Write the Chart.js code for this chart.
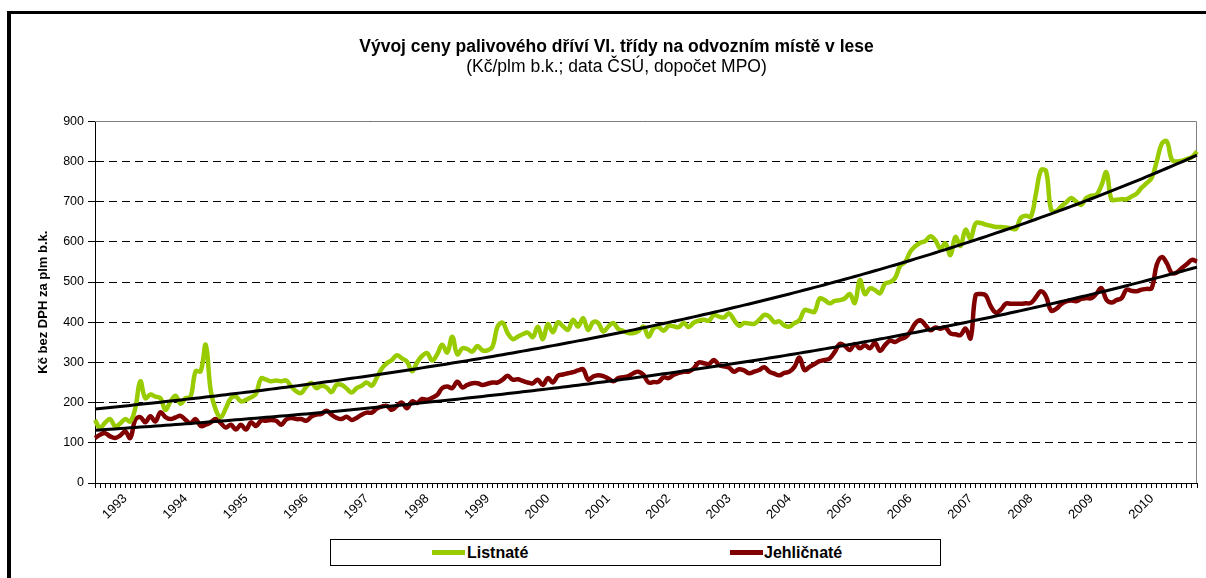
<!DOCTYPE html>
<html>
<head>
<meta charset="utf-8">
<script src="https://cdn.jsdelivr.net/npm/chart.js@4.4.1/dist/chart.umd.min.js"></script>
<style>
  body { margin: 0; background: #fff; overflow: hidden; }
  #wrap { position: relative; width: 1206px; height: 578px; overflow: hidden; font-family: 'Liberation Sans', Arial, sans-serif; }
  #frame { position: absolute; left: 7px; top: 11px; width: 1300px; height: 700px; border: 4px solid #000; border-top-width: 3px; }
  #chart { position: absolute; left: 0; top: 0; }
  #legend { position: absolute; left: 330px; top: 539px; width: 609px; height: 25px; border: 1px solid #000; background: #fff; }
  #legend .sw { position: absolute; top: 10px; width: 33px; height: 5px; }
  #legend .tx { position: absolute; top: 3px; font-weight: bold; font-size: 16px; color: #000; line-height: 19px; }
</style>
</head>
<body>
<div id="wrap">
  <div id="frame"></div>
  <canvas id="chart" width="1206" height="578"></canvas>
  <div id="legend">
    <div class="sw" style="left:101px;background:#99cc00"></div><div class="tx" style="left:136px">Listnaté</div>
    <div class="sw" style="left:399px;background:#800000"></div><div class="tx" style="left:433px">Jehličnaté</div>
  </div>
</div>
<script>
// years shown on the category axis (monthly data from Jan 1993)
const years = [1993, 1994, 1995, 1996, 1997, 1998, 1999, 2000, 2001, 2002, 2003, 2004, 2005, 2006, 2007, 2008, 2009, 2010];
const yTicks = [0, 100, 200, 300, 400, 500, 600, 700, 800, 900];

// Listnaté (Kč/plm b.k.), monthly
const listnate = [
  157, 137, 150, 159, 141, 148, 159, 153, 186, 253, 211, 220,
  215, 211, 182, 203, 217, 197, 211, 215, 278, 278, 344, 230,
  182, 164, 186, 211, 215, 203, 207, 213, 222, 260, 257, 253,
  255, 253, 255, 240, 228, 224, 240, 249, 236, 242, 238, 226,
  244, 244, 235, 225, 236, 242, 250, 242, 262, 285, 298, 306,
  318, 310, 302, 278, 300, 316, 323, 305, 320, 344, 325, 364,
  320, 335, 333, 327, 341, 330, 330, 339, 389, 399, 373, 358,
  364, 370, 374, 363, 389, 358, 395, 375, 400, 390, 381, 406,
  389, 410, 381, 400, 398, 377, 389, 398, 383, 378, 373, 373,
  378, 389, 364, 385, 388, 379, 391, 390, 388, 398, 388, 399,
  404, 406, 404, 418, 414, 412, 422, 406, 391, 398, 397, 396,
  406, 418, 414, 400, 402, 392, 389, 398, 405, 430, 428, 426,
  459, 455, 447, 453, 455, 459, 470, 448, 505, 470, 484, 480,
  472, 496, 500, 510, 540, 550, 575, 589, 598, 602, 614, 604,
  583, 596, 567, 612, 590, 630, 608, 646, 647, 643, 640, 637,
  637, 636, 634, 632, 660, 665, 663, 720, 778, 776, 680, 676,
  688, 698, 709, 700, 692, 709, 715, 717, 740, 773, 705, 705,
  706, 706, 713, 720, 735, 746, 759, 800, 844, 850, 804, 800,
  802, 806, 811, 825
];

// Jehličnaté (Kč/plm b.k.), monthly
const jehlicnate = [
  112, 120, 124, 116, 112, 118, 128, 112, 157, 164, 151, 166,
  153, 176, 164, 159, 163, 167, 157, 149, 159, 142, 145, 151,
  159, 149, 138, 145, 133, 145, 133, 151, 142, 155, 155, 157,
  155, 145, 158, 162, 159, 159, 155, 165, 170, 172, 180, 170,
  162, 159, 165, 157, 162, 170, 175, 175, 185, 190, 192, 182,
  192, 200, 186, 203, 199, 209, 207, 212, 219, 236, 240, 236,
  252, 238, 244, 248, 248, 244, 247, 250, 250, 257, 267, 257,
  258, 254, 250, 248, 257, 244, 261, 250, 267, 270, 273, 276,
  280, 283, 257, 265, 268, 266, 260, 253, 261, 263, 266, 273,
  277, 269, 250, 251, 252, 263, 261, 269, 274, 277, 277, 285,
  300, 298, 296, 306, 294, 290, 287, 277, 283, 280, 273, 277,
  281, 288, 277, 272, 268, 274, 277, 289, 312, 281, 289, 296,
  303, 306, 310, 326, 346, 341, 331, 346, 335, 343, 335, 349,
  329, 343, 354, 351, 358, 362, 376, 397, 405, 393, 380, 387,
  384, 387, 372, 370, 368, 384, 360, 467, 470, 467, 440, 424,
  431, 446, 446, 446, 446, 447, 448, 462, 477, 464, 429, 433,
  445, 452, 454, 452, 458, 460, 460, 471, 485, 456, 449, 455,
  460, 481, 478, 477, 481, 483, 485, 543, 562, 547, 522, 524,
  535, 545, 555, 551
];

// one label per year, in the middle of the year
const labels = [];
for (let i = 0; i < listnate.length; i++) {
  labels.push(i % 12 === 6 ? String(years[Math.floor(i / 12)]) : '');
}

// exponential trendline, least squares on ln(y) like Excel does
function expTrend(values) {
  let n = values.length, sx = 0, sy = 0, sxx = 0, sxy = 0;
  for (let i = 0; i < n; i++) {
    const x = i + 1, y = Math.log(values[i]);
    sx += x; sy += y; sxx += x * x; sxy += x * y;
  }
  const b = (n * sxy - sx * sy) / (n * sxx - sx * sx);
  const a = (sy - b * sx) / n;
  return values.map((v, i) => Math.exp(a + b * (i + 1)));
}

const plotFrame = {
  id: 'plotFrame',
  beforeDatasetsDraw(chart) {
    const ctx = chart.ctx, a = chart.chartArea;
    ctx.save();
    ctx.strokeStyle = '#808080';
    ctx.lineWidth = 1;
    ctx.beginPath();
    ctx.moveTo(a.left, Math.round(a.top) + 0.5);
    ctx.lineTo(Math.round(a.right) - 0.5, Math.round(a.top) + 0.5);
    ctx.lineTo(Math.round(a.right) - 0.5, a.bottom);
    ctx.stroke();
    ctx.restore();
  }
};

Chart.defaults.font.family = "'Liberation Sans', Arial, sans-serif";
Chart.defaults.color = '#000';

new Chart(document.getElementById('chart'), {
  type: 'line',
  data: {
    labels: labels,
    datasets: [
      { label: 'Listnaté', data: listnate, borderColor: '#99cc00', borderWidth: 4.5, pointRadius: 0, tension: 0.4, order: 2 },
      { label: 'Jehličnaté', data: jehlicnate, borderColor: '#800000', borderWidth: 4.5, pointRadius: 0, tension: 0.4, order: 2 },
      { label: 'trend L', data: expTrend(listnate), borderColor: '#000', borderWidth: 3, pointRadius: 0, order: 1 },
      { label: 'trend J', data: expTrend(jehlicnate), borderColor: '#000', borderWidth: 3, pointRadius: 0, order: 1 }
    ]
  },
  options: {
    responsive: false,
    animation: false,
    devicePixelRatio: 1,
    layout: { padding: { left: 36, top: 37, right: 9, bottom: 45 } },
    plugins: {
      legend: { display: false },
      tooltip: { enabled: false },
      title: {
        display: true,
        text: 'Vývoj ceny palivového dříví VI. třídy na odvozním místě v lese',
        font: { size: 17.5, weight: 'bold', lineHeight: 1.15 },
        padding: { top: 0, bottom: 0 }
      },
      subtitle: {
        display: true,
        text: '(Kč/plm b.k.; data ČSÚ, dopočet MPO)',
        font: { size: 17.5, lineHeight: 1.15 },
        color: '#000',
        padding: { top: 0, bottom: 44 }
      }
    },
    scales: {
      x: {
        offset: false,
        grid: { drawOnChartArea: false, drawTicks: true, tickLength: 5, tickColor: '#000' },
        border: { color: '#000', width: 1 },
        ticks: { autoSkip: false, maxRotation: 45, minRotation: 45, font: { size: 13 }, padding: 3 },
        afterFit(s) { s.height = 50; s.paddingLeft = 0; s.paddingRight = 0; }
      },
      y: {
        min: yTicks[0],
        max: yTicks[yTicks.length - 1],
        afterBuildTicks(s) { s.ticks = yTicks.map(v => ({ value: v })); },
        grid: { color: '#000', lineWidth: 1, drawTicks: true, tickLength: 7, tickColor: '#000' },
        border: { color: '#000', width: 1, dash: [8, 5] },
        ticks: { font: { size: 12.5 }, padding: 4 },
        title: { display: true, text: 'Kč bez DPH za plm b.k.', font: { size: 13, weight: 'bold' }, padding: { top: 0, bottom: 0 } },
        afterFit(s) { s.width = 59; }
      }
    }
  },
  plugins: [plotFrame]
});
</script>
</body>
</html>
